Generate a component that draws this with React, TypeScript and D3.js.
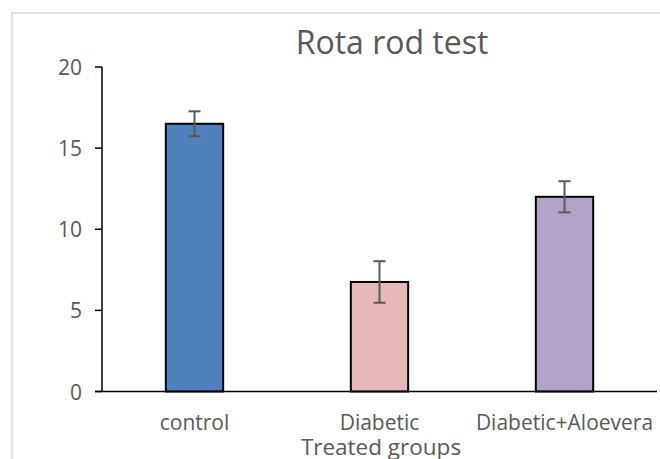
import React from "react";
import * as d3 from "d3";

const categories = ["control", "Diabetic", "Diabetic+Aloevera"];
const values = [16.5, 6.75, 12.0];
const errors = [0.77, 1.28, 0.96];
const colors = ["#4f81bd", "#e6b9b8", "#b3a2c7"];
const yTicks = [0, 5, 10, 15, 20];

const W = 660;
const H = 459;
const FONT = "'Open Sans', sans-serif";

export default function App() {
  const x = d3.scaleBand<string>().domain(categories).range([102, 657]).paddingInner(0.69).paddingOuter(0.345);
  const y = d3.scaleLinear().domain([0, 20]).range([391.5, 67]);
  const bw = x.bandwidth();
  return (
    <div style={{ position: "absolute", left: 0, top: 0 }}>
      <svg width={W} height={H} style={{ display: "block" }}>
        <rect x={0} y={0} width={W} height={H} fill="#fff" />
        <rect x={12} y={13} width={W} height={H} fill="none" stroke="#d9d9d9" strokeWidth={1.5} />
        <text x={392} y={53.5} textAnchor="middle" fontFamily={FONT} fontSize={32} fill="#595959">
          Rota rod test
        </text>
        {categories.map((c, i) => (
          <rect
            key={c}
            x={x(c)!}
            y={y(values[i])}
            width={bw}
            height={y(0) - y(values[i])}
            fill={colors[i]}
            stroke="#000"
            strokeWidth={2}
          />
        ))}
        {categories.map((c, i) => {
          const cx = x(c)! + bw / 2;
          const t = y(values[i] + errors[i]);
          const b = y(values[i] - errors[i]);
          return (
            <g key={c + "e"} stroke="#595959" strokeWidth={2}>
              <line x1={cx} x2={cx} y1={t} y2={b} />
              <line x1={cx - 6} x2={cx + 6} y1={t} y2={t} />
              <line x1={cx - 6} x2={cx + 6} y1={b} y2={b} />
            </g>
          );
        })}
        <line x1={102} x2={102} y1={y(20)} y2={y(0)} stroke="#000" strokeWidth={1.5} />
        <line x1={95} x2={657} y1={y(0)} y2={y(0)} stroke="#000" strokeWidth={1.5} />
        {yTicks.map((t) => (
          <g key={t}>
            <line x1={95} x2={102} y1={y(t)} y2={y(t)} stroke="#000" strokeWidth={1.5} />
            <text x={82} y={y(t) + 8} textAnchor="end" fontFamily={FONT} fontSize={21} fill="#595959">
              {t}
            </text>
          </g>
        ))}
        {categories.map((c) => (
          <text key={c + "l"} x={x(c)! + bw / 2} y={430} textAnchor="middle" fontFamily={FONT} fontSize={21} fill="#595959">
            {c}
          </text>
        ))}
        <text x={381} y={454.5} textAnchor="middle" fontFamily={FONT} fontSize={22.5} fill="#595959">
          Treated groups
        </text>
      </svg>
    </div>
  );
}
